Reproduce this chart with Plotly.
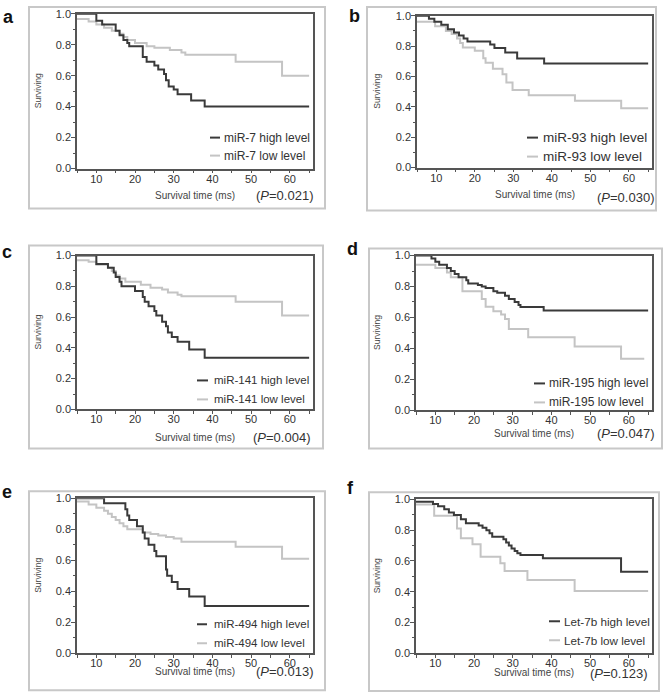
import plotly.graph_objects as go

W, H = 668, 698

# ---------------- data ----------------
genes = ["miR-7", "miR-93", "miR-141", "miR-195", "miR-494", "Let-7b"]
panel_letters = ["a", "b", "c", "d", "e", "f"]
p_values = ["0.021", "0.030", "0.004", "0.047", "0.013", "0.123"]
x_tick_vals = [10, 20, 30, 40, 50, 60]
y_tick_vals = [0.0, 0.2, 0.4, 0.6, 0.8, 1.0]

a_high_t = [5, 10, 11.5, 15, 16, 17, 18, 18.5, 22, 23, 25, 26, 27.5, 28, 28.7, 30, 31, 34.5, 38, 65]
a_high_s = [1.0, 0.955, 0.93, 0.89, 0.86, 0.83, 0.81, 0.79, 0.72, 0.69, 0.665, 0.64, 0.61, 0.57, 0.53, 0.51, 0.48, 0.44, 0.40, 0.40]
a_low_t = [5, 8, 10, 12, 14, 16, 17, 18, 20, 23, 25, 29, 32, 33, 46, 58, 65]
a_low_s = [0.965, 0.95, 0.93, 0.91, 0.89, 0.87, 0.85, 0.83, 0.81, 0.79, 0.78, 0.765, 0.75, 0.735, 0.69, 0.60, 0.60]

b_high_t = [5, 8.1, 9.5, 11.3, 13, 14.6, 15.9, 17.1, 18.1, 24, 25.1, 27.9, 31, 38, 65]
b_high_s = [1.0, 0.98, 0.96, 0.94, 0.91, 0.89, 0.87, 0.85, 0.83, 0.81, 0.787, 0.758, 0.718, 0.686, 0.686]
b_low_t = [5, 9.7, 12.5, 14, 15.4, 16.2, 16.9, 20, 22.2, 22.8, 24.7, 27.2, 28.2, 29.8, 34, 46, 58, 65]
b_low_s = [0.96, 0.93, 0.90, 0.88, 0.85, 0.82, 0.79, 0.77, 0.72, 0.69, 0.65, 0.615, 0.56, 0.51, 0.477, 0.44, 0.39, 0.39]

c_high_t = [5, 10, 13, 14.5, 15, 16, 16.5, 20, 22, 22.5, 23.5, 25, 25.5, 27, 28, 28.5, 29.5, 31, 34, 38, 65]
c_high_s = [1.0, 0.945, 0.92, 0.89, 0.86, 0.83, 0.80, 0.77, 0.73, 0.70, 0.67, 0.64, 0.61, 0.57, 0.54, 0.50, 0.47, 0.44, 0.39, 0.335, 0.335]
c_low_t = [5, 8, 10, 13, 14, 15, 16, 17.5, 21.5, 24, 27, 28.5, 31, 32, 46, 58, 65]
c_low_s = [0.97, 0.96, 0.94, 0.92, 0.90, 0.87, 0.85, 0.83, 0.81, 0.79, 0.78, 0.76, 0.745, 0.735, 0.70, 0.61, 0.61]

d_high_t = [5, 9, 10, 11, 13, 14, 15, 16, 18, 18.5, 21, 22, 23, 25, 26, 28, 29, 30.5, 31.5, 32, 38, 65]
d_high_s = [1.0, 0.98, 0.96, 0.94, 0.92, 0.90, 0.88, 0.86, 0.84, 0.82, 0.81, 0.80, 0.79, 0.77, 0.76, 0.74, 0.72, 0.70, 0.68, 0.667, 0.645, 0.645]
d_low_t = [5, 10, 13, 14, 17, 22, 23, 25, 27, 28, 29, 34, 46, 58, 64]
d_low_s = [0.94, 0.92, 0.89, 0.86, 0.77, 0.72, 0.67, 0.64, 0.62, 0.59, 0.525, 0.473, 0.413, 0.333, 0.333]

e_high_t = [5, 12, 17.5, 18, 18.5, 20.5, 22, 22.5, 23.5, 25, 25.5, 28, 28.3, 29.5, 31, 34, 38, 65]
e_high_s = [1.0, 0.968, 0.93, 0.89, 0.86, 0.82, 0.78, 0.74, 0.70, 0.66, 0.626, 0.54, 0.50, 0.46, 0.415, 0.367, 0.305, 0.305]
e_low_t = [5, 8, 10, 12, 13, 14, 15, 16, 17, 18, 22, 24, 26, 28, 30, 32, 46, 58, 65]
e_low_s = [0.98, 0.96, 0.94, 0.92, 0.90, 0.88, 0.86, 0.84, 0.82, 0.80, 0.78, 0.77, 0.76, 0.75, 0.74, 0.72, 0.687, 0.61, 0.61]

f_high_t = [5, 9.4, 10.7, 12.3, 13.5, 14.8, 16.6, 17.9, 21.2, 22.2, 23.2, 24, 24.7, 27.6, 28.3, 29, 29.7, 30.5, 31.2, 32, 37.8, 58, 65]
f_high_s = [0.985, 0.97, 0.955, 0.935, 0.915, 0.898, 0.87, 0.844, 0.83, 0.815, 0.80, 0.78, 0.757, 0.74, 0.72, 0.70, 0.68, 0.665, 0.65, 0.638, 0.617, 0.53, 0.53]
f_low_t = [5, 9.7, 15.6, 16.6, 19.6, 21.7, 26.8, 27.9, 33.8, 46, 65]
f_low_s = [0.967, 0.894, 0.81, 0.747, 0.708, 0.627, 0.584, 0.534, 0.476, 0.405, 0.405]

high_series = [(a_high_t, a_high_s), (b_high_t, b_high_s), (c_high_t, c_high_s),
               (d_high_t, d_high_s), (e_high_t, e_high_s), (f_high_t, f_high_s)]
low_series = [(a_low_t, a_low_s), (b_low_t, b_low_s), (c_low_t, c_low_s),
              (d_low_t, d_low_s), (e_low_t, e_low_s), (f_low_t, f_low_s)]

# ---------------- geometry (target pixels) ----------------
plot_boxes = [(77, 313, 13, 168), (417, 652, 15, 167), (77, 313, 255, 409),
              (416, 652, 255, 410), (77, 313, 498, 653), (416, 652, 499, 653)]
frames = [(29, 325, 6, 208), (367, 656, 6, 210), (29, 323, 245, 448),
          (369, 662, 248, 448), (29, 325, 491, 690), (369, 659, 492, 692)]
# sample x0, sample x1, text left, y high, y low, font size
legend_geo = [(210, 220, 222, 137, 155, 12), (527, 538, 541, 137, 156, 13.5), (197, 208, 212, 380, 399, 11.5),
              (534, 545, 547, 383, 402, 12), (197, 207, 212, 624, 643, 11.5), (549, 560, 562, 621, 640, 11.7)]
pval_geo = [(315, 195, 13), (656, 197, 13), (312, 437, 13), (656, 433, 13), (315, 671, 13), (649, 673, 13)]
ylab_x = [38, 377, 38, 377, 38, 377]
xlab_y = [195, 194, 437, 433, 671, 672]
letter_geo = [(8, 16), (354, 15), (7, 251), (352, 248), (7, 492), (350, 488)]

HIGH_COLOR = "#3a3a3a"
LOW_COLOR = "#c4c4c4"
FONT = "Liberation Sans, Arial, sans-serif"

# the photographed page shows the figure with a small vertical squeeze; compensate
V_OFF, V_SCALE = 5.3, 0.9835


def fx(px):
    return px / W


def fy(py):
    return 1 - ((py - V_OFF) / V_SCALE) / H


fig = go.Figure()
shapes = []
annotations = []
layout_axes = {}

for i in range(6):
    n = "" if i == 0 else str(i + 1)
    xa, ya = "x" + n, "y" + n
    x0, x1, y0, y1 = plot_boxes[i]
    ht, hs = high_series[i]
    lt, ls = low_series[i]
    fig.add_trace(go.Scatter(x=lt, y=ls, mode="lines", line=dict(color=LOW_COLOR, width=2, shape="hv"),
                             xaxis=xa, yaxis=ya, showlegend=False, hoverinfo="skip"))
    fig.add_trace(go.Scatter(x=ht, y=hs, mode="lines", line=dict(color=HIGH_COLOR, width=2, shape="hv"),
                             xaxis=xa, yaxis=ya, showlegend=False, hoverinfo="skip"))

    layout_axes["xaxis" + n] = dict(
        domain=[fx(x0), fx(x1)], anchor=ya, range=[5, 66], tickvals=x_tick_vals,
        ticks="outside", ticklen=3, tickcolor="#555", showline=True, linecolor="#555", linewidth=1.6,
        mirror=True, showgrid=False, zeroline=False, ticklabelstandoff=-4,
        minor=dict(dtick=5, tick0=5, ticks="outside", ticklen=3, tickcolor="#555", showgrid=False),
        tickfont=dict(size=11, color="#333", family=FONT), fixedrange=True)
    layout_axes["yaxis" + n] = dict(
        domain=[fy(y1), fy(y0)], anchor=xa, range=[0, 1], tickvals=y_tick_vals, tickformat=".1f",
        ticks="outside", ticklen=4, tickcolor="#555", showline=True, linecolor="#555", linewidth=1.6,
        mirror=True, showgrid=False, zeroline=False, ticklabelstandoff=-2,
        minor=dict(dtick=0.1, ticks="outside", ticklen=2, tickcolor="#555", showgrid=False),
        tickfont=dict(size=11, color="#333", family=FONT), fixedrange=True)

    # panel frame
    fx0, fx1, fy0, fy1 = frames[i]
    shapes.append(dict(type="rect", xref="paper", yref="paper", x0=fx(fx0), x1=fx(fx1),
                       y0=max(fy(fy1), 0.0015), y1=min(fy(fy0), 0.9985),
                       line=dict(color="#c8c8c8", width=2), fillcolor="rgba(0,0,0,0)", layer="below"))

    # legend
    sx0, sx1, tx, yh, yl, fs = legend_geo[i]
    for yy, col, lab in ((yh, HIGH_COLOR, genes[i] + " high level"), (yl, LOW_COLOR, genes[i] + " low level")):
        shapes.append(dict(type="line", xref="paper", yref="paper", x0=fx(sx0), x1=fx(sx1), y0=fy(yy), y1=fy(yy),
                           line=dict(color=col, width=2)))
        annotations.append(dict(xref="paper", yref="paper", x=fx(tx), y=fy(yy), text=lab, showarrow=False,
                                xanchor="left", yanchor="middle", font=dict(size=fs, color="#333", family=FONT)))

    # p value
    px_, py_, ps = pval_geo[i]
    annotations.append(dict(xref="paper", yref="paper", x=fx(px_), y=fy(py_), text="(<i>P</i>=" + p_values[i] + ")",
                            showarrow=False, xanchor="right", yanchor="middle",
                            font=dict(size=ps, color="#333", family=FONT)))
    # axis titles
    annotations.append(dict(xref="paper", yref="paper", x=fx(ylab_x[i]), y=fy((y0 + y1) / 2), text="Surviving",
                            textangle=-90, showarrow=False, xanchor="center", yanchor="middle",
                            font=dict(size=8.5, color="#444", family=FONT)))
    annotations.append(dict(xref="paper", yref="paper", x=fx((x0 + x1) / 2), y=fy(xlab_y[i]),
                            text="Survival time (ms)", showarrow=False, xanchor="center", yanchor="middle",
                            font=dict(size=10, color="#444", family=FONT)))
    # panel letter
    lx, ly = letter_geo[i]
    annotations.append(dict(xref="paper", yref="paper", x=fx(lx), y=fy(ly), text="<b>" + panel_letters[i] + "</b>",
                            showarrow=False, xanchor="center", yanchor="middle",
                            font=dict(size=18, color="#111", family=FONT)))

fig.update_layout(width=W, height=H, margin=dict(l=0, r=0, t=0, b=0),
                  paper_bgcolor="white", plot_bgcolor="white", showlegend=False,
                  shapes=shapes, annotations=annotations, **layout_axes)

fig.write_html("out.html", config={"displayModeBar": False},
               post_script="document.body.style.margin='0';document.body.style.overflow='hidden';")
